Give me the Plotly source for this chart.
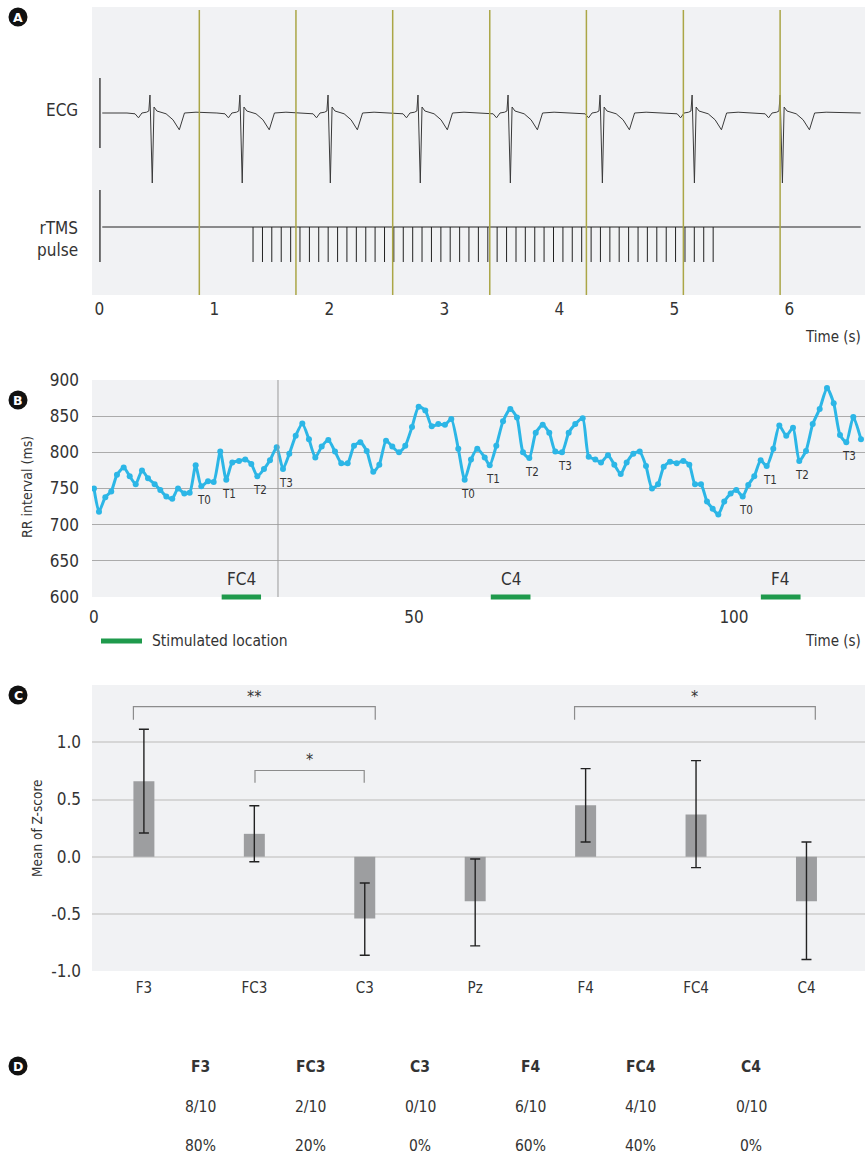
import plotly.graph_objects as go

W, H = 865, 1160
FONT = "'Liberation Sans Narrow', 'DejaVu Sans Condensed', 'Arial Narrow', sans-serif"
TXT = "#333333"

# ---------------- Panel A data ----------------
rec_span = [0.026, 6.62]                       # recording start / end (s)
beat_times = [0.441, 1.223, 1.989, 2.771, 3.554, 4.354, 5.154, 5.919]   # R peaks (s)
marker_times = [0.870, 1.710, 2.551, 3.395, 4.235, 5.078, 5.919]         # olive event markers (s)
# one ECG beat template: time relative to R peak (s) and amplitude (mV)
ecg_dt = [-0.20, -0.13, -0.10, -0.07, -0.03, -0.01, 0.0, 0.02, 0.035, 0.06, 0.14, 0.20, 0.255, 0.30, 0.40]
ecg_mv = [0.0, -0.02, -0.12, 0.0, 0.02, 0.05, 0.45, -1.75, 0.15, 0.05, -0.02, -0.17, -0.42, 0.0, 0.02]
pulse_times = [1.337, 1.419, 1.500, 1.582, 1.664, 1.745, 1.827, 1.908, 1.990, 2.072,
               2.153, 2.235, 2.317, 2.398, 2.480, 2.561, 2.643, 2.725, 2.806, 2.888,
               2.970, 3.051, 3.133, 3.214, 3.296, 3.378, 3.459, 3.541, 3.623, 3.704,
               3.786, 3.867, 3.949, 4.031, 4.112, 4.194, 4.276, 4.357, 4.439, 4.520,
               4.602, 4.684, 4.765, 4.847, 4.929, 5.010, 5.092, 5.173, 5.255, 5.337]

# ---------------- Panel B data ----------------
rr_time = [0.0, 0.78, 1.77, 2.70, 3.59, 4.64, 5.58, 6.52, 7.50, 8.44,
           9.48, 10.36, 11.30, 12.23, 13.13, 14.11, 14.95, 15.89, 16.77, 17.81,
           18.70, 19.73, 20.67, 21.61, 22.66, 23.64, 24.58, 25.52, 26.56, 27.50,
           28.55, 29.53, 30.52, 31.52, 32.55, 33.59, 34.58, 35.58, 36.61, 37.66,
           38.64, 39.64, 40.63, 41.61, 42.61, 43.64, 44.58, 45.63, 46.61, 47.66,
           48.64, 49.69, 50.73, 51.77, 52.77, 53.80, 54.84, 55.83, 56.92, 57.92,
           58.91, 59.89, 61.05, 61.83, 62.86, 63.91, 65.05, 66.09, 67.03, 68.02,
           69.02, 70.11, 71.14, 72.08, 73.13, 74.17, 75.20, 76.36, 77.30, 78.33,
           79.22, 80.31, 81.30, 82.30, 83.23, 84.27, 85.27, 86.25, 87.19, 88.13,
           89.02, 90.00, 91.05, 92.08, 93.02, 93.91, 94.84, 95.78, 96.67, 97.55,
           98.48, 99.48, 100.36, 101.36, 102.23, 103.17, 104.17, 105.11, 106.14, 107.08,
           108.17, 109.22, 110.20, 111.25, 112.30, 113.39, 114.53, 115.58, 116.56, 117.55,
           118.64, 119.84]
rr_ms = [750, 718, 738, 746, 769, 779, 767, 756, 775, 764,
         756, 748, 739, 736, 750, 743, 744, 782, 753, 760,
         759, 801, 762, 786, 788, 790, 784, 767, 777, 789,
         807, 777, 798, 823, 840, 818, 793, 808, 817, 801,
         785, 785, 809, 814, 802, 773, 783, 816, 808, 800,
         809, 835, 863, 858, 836, 839, 838, 846, 805, 762,
         790, 805, 793, 782, 809, 843, 860, 848, 800, 792,
         827, 838, 827, 801, 800, 827, 839, 847, 794, 790,
         786, 796, 783, 770, 786, 798, 801, 781, 750, 756,
         780, 787, 785, 788, 783, 756, 756, 732, 722, 714,
         732, 743, 748, 739, 755, 767, 789, 781, 805, 837,
         823, 834, 788, 802, 839, 860, 889, 868, 824, 814,
         849, 818]
t_labels = ["T0", "T1", "T2", "T3"] * 3
t_point_idx = [18, 22, 27, 31, 59, 63, 69, 74, 103, 107, 112, 119]
stim_loc = ["FC4", "C4", "F4"]
stim_start = [19.95, 62.0, 104.2]
stim_end = [26.1, 68.2, 110.4]
divider_time = 28.75

# ---------------- Panel C data ----------------
sites = ["F3", "FC3", "C3", "Pz", "F4", "FC4", "C4"]
z_mean = [0.66, 0.20, -0.54, -0.39, 0.45, 0.37, -0.39]
z_err_plus = [0.455, 0.245, 0.31, 0.37, 0.32, 0.47, 0.518]
z_err_minus = [0.453, 0.244, 0.322, 0.39, 0.322, 0.466, 0.51]
sig_text = ["**", "*", "*"]

# ---------------- Panel D data ----------------
d_sites = ["F3", "FC3", "C3", "F4", "FC4", "C4"]
d_count = ["8/10", "2/10", "0/10", "6/10", "4/10", "0/10"]
d_pct = ["80%", "20%", "0%", "60%", "40%", "0%"]


def px_x(p):
    return p / W


def px_y(p):
    return 1 - p / H


def font(size, color=TXT, family=FONT):
    return dict(size=size, color=color, family=family)


annotations = []
shapes = []


def paper_text(xp, yp, text, size, xanchor="center", yanchor="middle", **kw):
    annotations.append(dict(x=px_x(xp), y=px_y(yp), xref="paper", yref="paper", text=text,
                            showarrow=False, xanchor=xanchor, yanchor=yanchor,
                            font=kw.pop("fnt", font(size)), **kw))


XDOM = [px_x(92), 1.0]
fig = go.Figure()

# ---- Panel A traces ----
ecg_x, ecg_y = [rec_span[0]], [0.0]
for b in beat_times:
    for dt, v in zip(ecg_dt, ecg_mv):
        ecg_x.append(b + dt)
        ecg_y.append(v)
ecg_x.append(rec_span[1])
ecg_y.append(0.0)
fig.add_trace(go.Scatter(x=ecg_x, y=ecg_y, mode="lines", line=dict(color="#3a3a3a", width=1),
                         xaxis="x", yaxis="y", showlegend=False, hoverinfo="skip"))

RTMS_BASE = -2.85
PULSE_DEPTH = 0.875
px_, py_ = [rec_span[0], rec_span[1], None], [RTMS_BASE, RTMS_BASE, None]
for p in pulse_times:
    px_ += [p, p, None]
    py_ += [RTMS_BASE, RTMS_BASE - PULSE_DEPTH, None]
fig.add_trace(go.Scatter(x=px_, y=py_, mode="lines", line=dict(color="#222222", width=1),
                         xaxis="x", yaxis="y", showlegend=False, hoverinfo="skip"))

# ---- Panel B traces ----
fig.add_trace(go.Scatter(x=rr_time, y=rr_ms, mode="lines+markers",
                         line=dict(color="#2cb6e6", width=3, shape="spline", smoothing=0.6),
                         marker=dict(color="#2cb6e6", size=6),
                         xaxis="x2", yaxis="y2", showlegend=False))

# ---- Panel C traces ----
fig.add_trace(go.Bar(x=sites, y=z_mean, width=0.19, marker=dict(color="#9d9ea0", line=dict(width=0)),
                     error_y=dict(type="data", symmetric=False, array=z_err_plus, arrayminus=z_err_minus,
                                  color="#222222", thickness=1.4, width=5),
                     xaxis="x3", yaxis="y3", showlegend=False))

# Panel A shapes
for m in marker_times:
    shapes.append(dict(type="line", xref="x", yref="y domain", x0=m, x1=m, y0=0, y1=0.99,
                       line=dict(color="#aba646", width=1.5)))
shapes.append(dict(type="line", xref="x", yref="y", x0=0.006, x1=0.006, y0=0.875, y1=-0.875,
                   line=dict(color="#444444", width=1.5)))
shapes.append(dict(type="line", xref="x", yref="y", x0=0.006, x1=0.006, y0=-1.925, y1=-3.725,
                   line=dict(color="#444444", width=1.5)))

# Panel B shapes
shapes.append(dict(type="line", xref="x2", yref="y2 domain", x0=divider_time, x1=divider_time, y0=0, y1=1,
                   line=dict(color="#9a9a9a", width=1)))
for lab, s0, s1 in zip(stim_loc, stim_start, stim_end):
    shapes.append(dict(type="line", xref="x2", yref="paper", x0=s0, x1=s1, y0=px_y(597), y1=px_y(597),
                       line=dict(color="#1f9a4c", width=5)))
    annotations.append(dict(x=(s0 + s1) / 2, y=625, xref="x2", yref="y2", text=lab, showarrow=False,
                            xanchor="center", yanchor="middle", font=font(17)))
for lab, i in zip(t_labels, t_point_idx):
    annotations.append(dict(x=rr_time[i], y=rr_ms[i], xref="x2", yref="y2", text=lab, showarrow=False,
                            xanchor="center", yanchor="middle", xshift=3, yshift=-14, font=font(11.5)))
shapes.append(dict(type="line", xref="paper", yref="paper", x0=px_x(101), x1=px_x(142),
                   y0=px_y(641), y1=px_y(641), line=dict(color="#1f9a4c", width=5)))
paper_text(150, 641, "Stimulated location", 15.5, xanchor="left")

# Panel C brackets
pos = {s: i for i, s in enumerate(sites)}
bracket_specs = [(pos["F3"] - 0.095, pos["C3"] + 0.095, 1.313, 1.197, 1.40),
                 (pos["FC3"] + 0.006, pos["C3"] - 0.005, 0.754, 0.646, 0.85),
                 (pos["F4"] - 0.1, pos["C4"] + 0.08, 1.313, 1.197, 1.40)]
for (x0, x1, ytop, yleg, ytxt), txt in zip(bracket_specs, sig_text):
    shapes.append(dict(type="path", xref="x3", yref="y3",
                       path=f"M {x0},{yleg} L {x0},{ytop} L {x1},{ytop} L {x1},{yleg}",
                       line=dict(color="#8c8c8c", width=1.2)))
    annotations.append(dict(x=(x0 + x1) / 2, y=ytxt, xref="x3", yref="y3", text=txt, showarrow=False,
                            xanchor="center", yanchor="middle", font=font(16)))

# Panel labels (black circles)
for letter, cy in zip(["A", "B", "C", "D"], [17, 400, 695, 1066]):
    shapes.append(dict(type="circle", xref="paper", yref="paper", x0=px_x(8.5), x1=px_x(27.5),
                       y0=px_y(cy + 9.5), y1=px_y(cy - 9.5), fillcolor="#111111", line=dict(width=0)))
    paper_text(18, cy + 0.5, f"<b>{letter}</b>", 12, fnt=font(12.5, "white", "DejaVu Sans"))

# Panel A text
paper_text(80, 110, "ECG", 17, xanchor="right")
paper_text(80, 239, "rTMS<br>pulse", 17, xanchor="right", align="right")
paper_text(863, 337, "Time (s)", 15, xanchor="right")
paper_text(863, 641, "Time (s)", 15, xanchor="right")
paper_text(27, 487, "RR interval (ms)", 14, textangle=-90)
paper_text(37, 828, "Mean of Z-score", 13.5, textangle=-90)

# Panel D table
for i, (s, c, p) in enumerate(zip(d_sites, d_count, d_pct)):
    xc = 200 + 110.2 * i
    paper_text(xc, 1067, f"<b>{s}</b>", 15.5)
    paper_text(xc, 1107, c, 15.5)
    paper_text(xc, 1146, p, 15.5)

tickf = font(17)
common = dict(automargin=False, zeroline=False, showline=False, ticks="")
fig.update_layout(
    width=W, height=H, margin=dict(l=0, r=0, t=0, b=0, pad=0, autoexpand=False),
    paper_bgcolor="white", plot_bgcolor="#f1f2f4",
    font=dict(family=FONT, color=TXT),
    showlegend=False,
    xaxis=dict(domain=XDOM, anchor="y", range=[-0.063, 6.657], tickvals=[0, 1, 2, 3, 4, 5, 6],
               showgrid=False, tickfont=tickf, ticklabelstandoff=2, **common),
    yaxis=dict(domain=[px_y(295), px_y(7)], anchor="x", range=[-4.55, 2.65], visible=False,
               showgrid=False, **common),
    xaxis2=dict(domain=XDOM, anchor="y2", range=[-0.31, 120.47], tickvals=[0, 50, 100],
                showgrid=False, tickfont=tickf, ticklabelstandoff=8, **common),
    yaxis2=dict(domain=[px_y(597), px_y(380)], anchor="x2", range=[600, 900],
                tickvals=[600, 650, 700, 750, 800, 850, 900], showgrid=True, gridcolor="#ababab",
                gridwidth=1, tickfont=tickf, ticklabelstandoff=12, **common),
    xaxis3=dict(domain=XDOM, anchor="y3", type="category", range=[-0.47, 6.53],
                showgrid=False, tickfont=font(15), ticklabelstandoff=6, **common),
    yaxis3=dict(domain=[px_y(971), px_y(685)], anchor="x3", range=[-1.0, 1.502],
                tickvals=[-1, -0.5, 0, 0.5, 1], ticktext=["-1.0", "-0.5", "0.0", "0.5", "1.0"],
                showgrid=True, gridcolor="#d6d6d6", gridwidth=1.5,
                tickfont=tickf, ticklabelstandoff=10, **common),
    shapes=shapes, annotations=annotations,
)

fig.write_html("out.html")
